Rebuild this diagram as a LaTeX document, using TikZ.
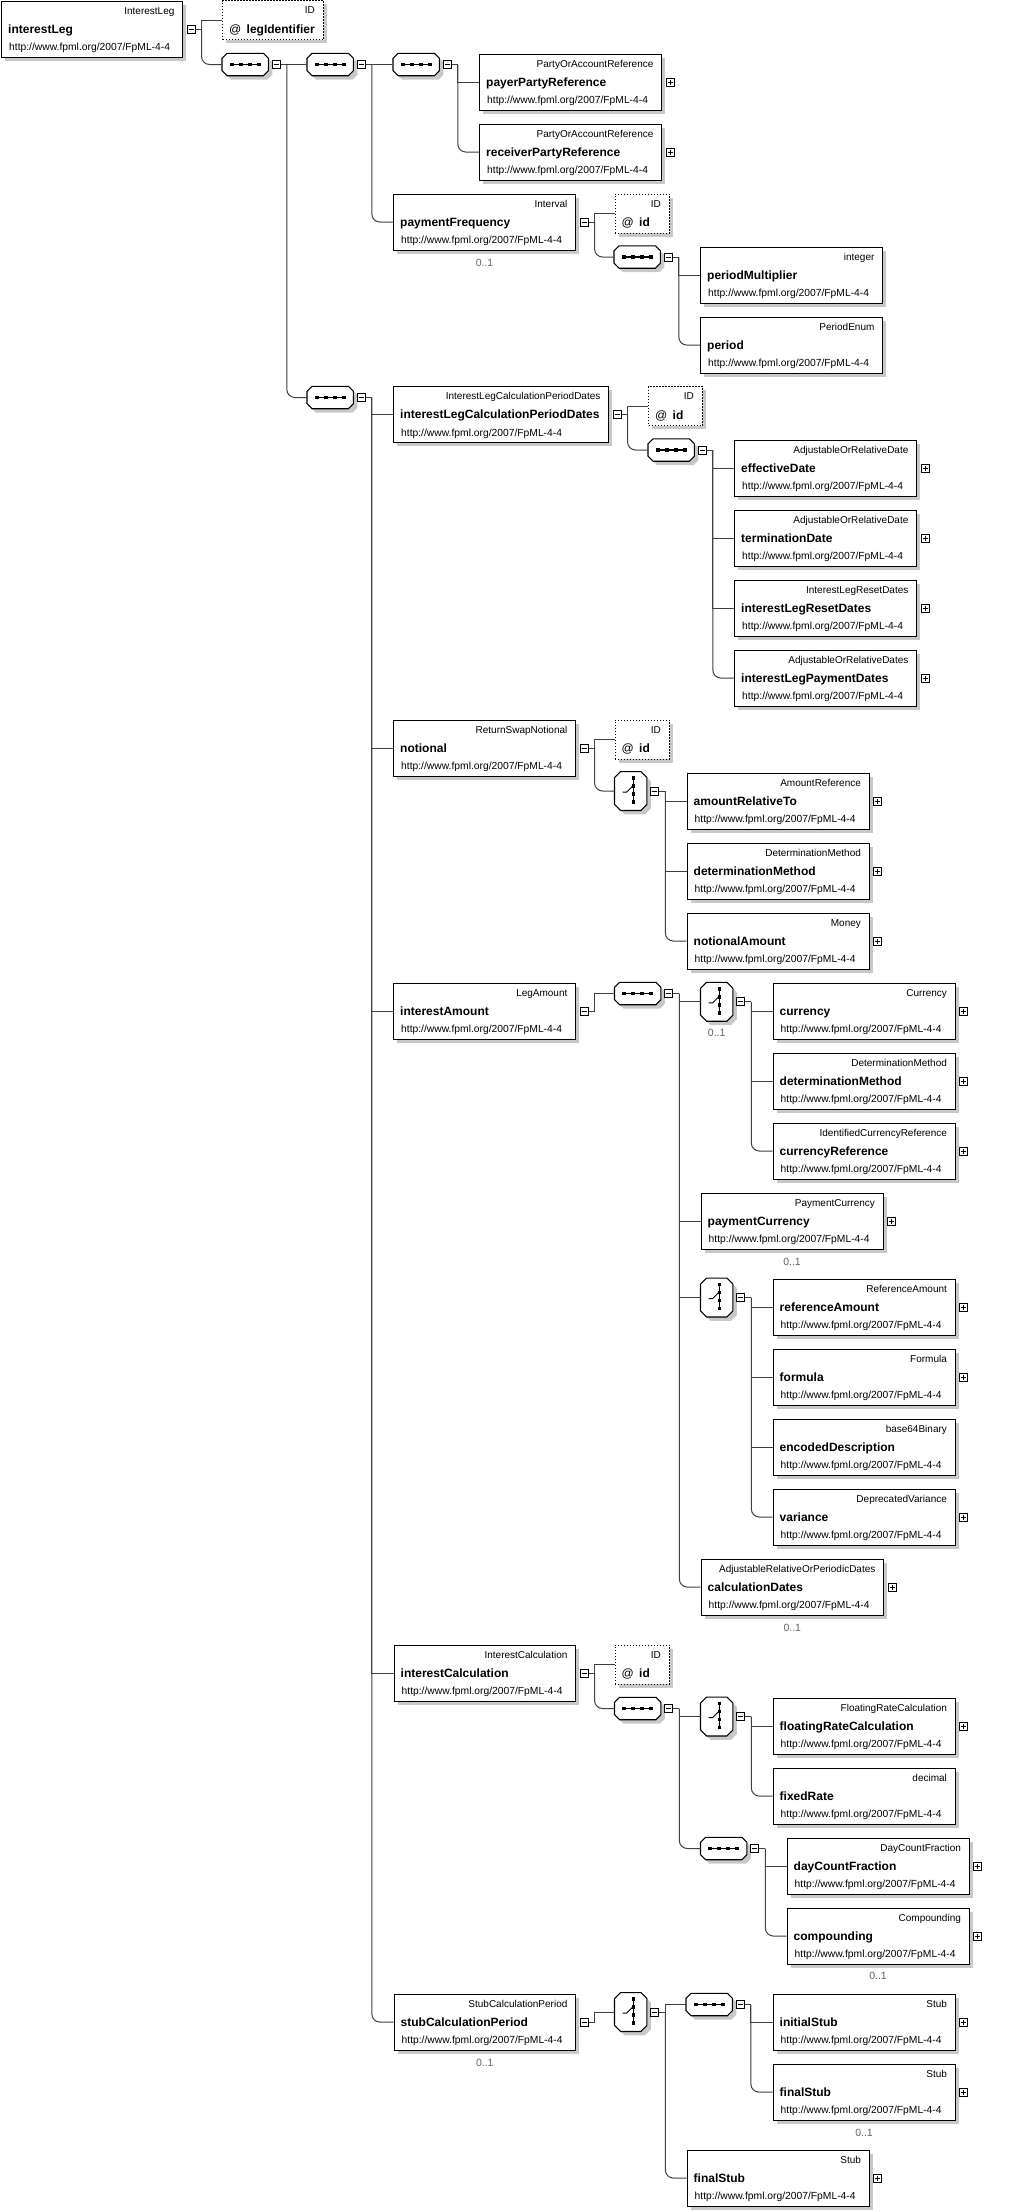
\documentclass[tikz,border=0pt]{standalone}
\usepackage{fontspec}
\setmainfont{Liberation Sans}
\usetikzlibrary{calc}
\definecolor{shadowc}{RGB}{200,200,200}
\definecolor{connc}{RGB}{64,64,64}
\definecolor{occc}{RGB}{100,100,100}
\tikzset{
 elbox/.style={draw=black, line width=1.1pt, fill=white, minimum height=56, inner sep=0, anchor=north west},
 idbox/.style={draw=black, line width=1.1pt, dash pattern=on 1.2pt off 1.8pt, fill=white, minimum height=39, inner sep=0, anchor=north west},
 octnode/.style={inner sep=0, minimum width=46, minimum height=22},
 chnode/.style={inner sep=0, minimum width=32, minimum height=38.5},
 typetxt/.style={inner sep=0, font=\fontsize{10}{12}\selectfont},
 nametxt/.style={inner sep=0, font=\fontsize{12}{14}\selectfont\bfseries},
 attxt/.style={inner sep=0, font=\fontsize{12}{14}\selectfont},
 urltxt/.style={inner sep=0, font=\fontsize{10.3}{12}\selectfont},
 occtxt/.style={inner sep=0, text=occc, font=\fontsize{10.5}{12}\selectfont},
 pmbox/.style={draw=black, line width=0.9pt, fill=white, minimum size=8, inner sep=0},
 signline/.style={line width=0.9pt},
 conn/.style={draw=connc, line width=1pt},
}
\newcommand\elem[6]{%
 \fill[shadowc] (#2+4,#3+4) rectangle (#2+#4+4,#3+60);
 \node[elbox, minimum width=#4] (#1) at (#2,#3) {};
 \node[typetxt, anchor=base east] (#1t) at ([shift={(-8.5,13.5)}]#1.north east) {#5};
 \node[nametxt, anchor=base west] (#1n) at ([shift={(7,32.5)}]#1.north west) {#6};
 \node[urltxt, anchor=base west] (#1u) at ([shift={(8,50)}]#1.north west) {http://www.fpml.org/2007/FpML-4-4};
}
\newcommand\attrbox[5]{%
 \fill[shadowc] (#2+4,#3+4) rectangle (#2+#4+4,#3+43);
 \node[idbox, minimum width=#4] (#1) at (#2,#3) {};
 \node[typetxt, anchor=base east] (#1t) at ([shift={(-9,13.5)}]#1.north east) {ID};
 \node[attxt, anchor=base west] (#1a) at ([shift={(7,33)}]#1.north west) {@};
 \node[nametxt, anchor=base west] (#1n) at ([shift={(24.5,33)}]#1.north west) {#5};
}
\newcommand\octdraw[2]{%
 \fill[shadowc] ([shift={(#2+4,4)}]#1.north west) -- ([shift={(-#2+4,4)}]#1.north east) -- ([shift={(4,#2+4)}]#1.north east) -- ([shift={(4,-#2+4)}]#1.south east) -- ([shift={(-#2+4,4)}]#1.south east) -- ([shift={(#2+4,4)}]#1.south west) -- ([shift={(4,-#2+4)}]#1.south west) -- ([shift={(4,#2+4)}]#1.north west) -- cycle;
 \draw[black, line width=1.1pt, fill=white] ([shift={(#2,0)}]#1.north west) -- ([shift={(-#2,0)}]#1.north east) -- ([shift={(0,#2)}]#1.north east) -- ([shift={(0,-#2)}]#1.south east) -- ([shift={(-#2,0)}]#1.south east) -- ([shift={(#2,0)}]#1.south west) -- ([shift={(0,-#2)}]#1.south west) -- ([shift={(0,#2)}]#1.north west) -- cycle;
}
\newcommand\seqnode[3]{%
 \node[octnode, anchor=west] (#1) at (#2,#3) {};
 \octdraw{#1}{5}
 \draw[line width=1.3pt] ([shift={(-14,0)}]#1.center) -- ([shift={(14,0)}]#1.center);
 \foreach \dd in {-13.5,-4.5,4.5,13.5}{\fill ([shift={(\dd-1.8,-1.8)}]#1.center) rectangle ([shift={(\dd+1.8,1.8)}]#1.center);}
}
\newcommand\choicenode[3]{%
 \node[chnode, anchor=west] (#1) at (#2,#3) {};
 \octdraw{#1}{6}
 \draw[line width=1.3pt] ([shift={(2.7,-13)}]#1.center) -- ([shift={(2.7,11)}]#1.center);
 \foreach \dd in {-13,-5,3,11}{\fill ([shift={(2.7-1.8,\dd-1.8)}]#1.center) rectangle ([shift={(2.7+1.8,\dd+1.8)}]#1.center);}
 \draw[line width=1pt] ([shift={(-8,1)}]#1.center) -- ([shift={(-4,1)}]#1.center) -- ([shift={(1.5,-4.5)}]#1.center);
}
\newcommand\minusfor[2]{%
 \node[pmbox] (#2) at ([xshift=8pt]#1.east) {};
 \draw[signline] ([xshift=-2.5pt]#2.center) -- ([xshift=2.5pt]#2.center);
}
\newcommand\plusfor[2]{%
 \node[pmbox] (#2) at ([xshift=8pt]#1.east) {};
 \draw[signline] ([xshift=-2.5pt]#2.center) -- ([xshift=2.5pt]#2.center) ([yshift=-2.5pt]#2.center) -- ([yshift=2.5pt]#2.center);
}
\newcommand\occfor[2]{\node[occtxt] (#1o) at ([shift={(0,#2)}]#1.south) {0..1};}
\newcommand\jn[1]{\coordinate (#1v) at ([xshift=6pt]#1.east); \draw[conn] (#1.east) -- (#1v);}
\newcommand\tj[2]{\draw[conn] (#1v) |- (#2.west);}
\newcommand\lj[2]{\draw[conn, rounded corners=8pt] (#1v) |- (#2.west);}
\begin{document}
\begin{tikzpicture}[x=1pt,y=-1pt]
\fill[white] (0,0) rectangle (1009,2211);
\useasboundingbox (0,0) rectangle (1009,2211);
% top
\elem{il}{1}{0.5}{181}{InterestLeg}{interestLeg}
\minusfor{il}{ilm}
\attrbox{ilid}{222}{0}{101}{legIdentifier}
\seqnode{sA}{222}{64.5}
\minusfor{sA}{sAm}
\seqnode{sB}{307}{64.5}
\minusfor{sB}{sBm}
\seqnode{sD}{393}{64.5}
\minusfor{sD}{sDm}
\elem{payer}{479}{53.5}{182}{PartyOrAccountReference}{payerPartyReference}
\plusfor{payer}{payerp}
\elem{recv}{479}{123.5}{182}{PartyOrAccountReference}{receiverPartyReference}
\plusfor{recv}{recvp}
\elem{pf}{393}{193.5}{182}{Interval}{paymentFrequency}
\minusfor{pf}{pfm}
\occfor{pf}{12}
\attrbox{pfid}{614.5}{193.5}{54.5}{id}
\seqnode{pfs}{614}{257}
\minusfor{pfs}{pfsm}
\elem{pmul}{700}{246.5}{182}{integer}{periodMultiplier}
\elem{per}{700}{316.5}{182}{PeriodEnum}{period}
% seq C
\seqnode{sC}{307}{397.5}
\minusfor{sC}{sCm}
\elem{ilcpd}{393}{386}{215}{InterestLegCalculationPeriodDates}{interestLegCalculationPeriodDates}
\minusfor{ilcpd}{ilcpdm}
\attrbox{ilcpdid}{648}{386}{54}{id}
\seqnode{ilcpds}{648}{450}
\minusfor{ilcpds}{ilcpdsm}
\elem{eff}{734}{439.5}{182}{AdjustableOrRelativeDate}{effectiveDate}
\plusfor{eff}{effp}
\elem{term}{734}{509.5}{182}{AdjustableOrRelativeDate}{terminationDate}
\plusfor{term}{termp}
\elem{reset}{734}{579.5}{182}{InterestLegResetDates}{interestLegResetDates}
\plusfor{reset}{resetp}
\elem{paydt}{734}{649.5}{182}{AdjustableOrRelativeDates}{interestLegPaymentDates}
\plusfor{paydt}{paydtp}
% notional
\elem{notl}{393}{719.5}{182}{ReturnSwapNotional}{notional}
\minusfor{notl}{notlm}
\attrbox{notlid}{614.5}{719.5}{54.5}{id}
\choicenode{notlc}{614.5}{791}
\minusfor{notlc}{notlcm}
\elem{amrel}{686.5}{772.5}{182}{AmountReference}{amountRelativeTo}
\plusfor{amrel}{amrelp}
\elem{detm}{686.5}{842.5}{182}{DeterminationMethod}{determinationMethod}
\plusfor{detm}{detmp}
\elem{notam}{686.5}{912.5}{182}{Money}{notionalAmount}
\plusfor{notam}{notamp}
% interestAmount
\elem{iam}{393}{982.5}{182}{LegAmount}{interestAmount}
\minusfor{iam}{iamm}
\seqnode{iams}{614.5}{993.5}
\minusfor{iams}{iamsm}
\choicenode{iac1}{700.5}{1001.75}
\minusfor{iac1}{iac1m}
\occfor{iac1}{11.5}
\elem{cur}{772.5}{982.5}{182}{Currency}{currency}
\plusfor{cur}{curp}
\elem{detmb}{772.5}{1052.5}{182}{DeterminationMethod}{determinationMethod}
\plusfor{detmb}{detmbp}
\elem{curref}{772.5}{1122.5}{182}{IdentifiedCurrencyReference}{currencyReference}
\plusfor{curref}{currefp}
\elem{paycur}{700.5}{1192.5}{182}{PaymentCurrency}{paymentCurrency}
\plusfor{paycur}{paycurp}
\occfor{paycur}{12}
\choicenode{iac2}{700.5}{1297.5}
\minusfor{iac2}{iac2m}
\elem{refam}{772.5}{1278.5}{182}{ReferenceAmount}{referenceAmount}
\plusfor{refam}{refamp}
\elem{form}{772.5}{1348.5}{182}{Formula}{formula}
\plusfor{form}{formp}
\elem{encd}{772.5}{1418.5}{182}{base64Binary}{encodedDescription}
\elem{var}{772.5}{1488.5}{182}{DeprecatedVariance}{variance}
\plusfor{var}{varp}
\elem{cald}{700.5}{1558.5}{182.5}{AdjustableRelativeOrPeriodicDates}{calculationDates}
\plusfor{cald}{caldp}
\occfor{cald}{12}
% interestCalculation
\elem{ic}{393.5}{1644.5}{181.5}{InterestCalculation}{interestCalculation}
\minusfor{ic}{icm}
\attrbox{icid}{614.5}{1644.5}{54.5}{id}
\seqnode{ics}{614.5}{1708.5}
\minusfor{ics}{icsm}
\choicenode{icc}{700.5}{1716.5}
\minusfor{icc}{iccm}
\elem{frc}{772.5}{1697.5}{182}{FloatingRateCalculation}{floatingRateCalculation}
\plusfor{frc}{frcp}
\elem{fixr}{772.5}{1767.5}{182}{decimal}{fixedRate}
\seqnode{icsb}{700.5}{1848.5}
\minusfor{icsb}{icsbm}
\elem{dcf}{786.5}{1837.5}{182}{DayCountFraction}{dayCountFraction}
\plusfor{dcf}{dcfp}
\elem{comp}{786.5}{1907.5}{182}{Compounding}{compounding}
\plusfor{comp}{compp}
\occfor{comp}{11.5}
% stub
\elem{stub}{393.5}{1993.5}{181.5}{StubCalculationPeriod}{stubCalculationPeriod}
\minusfor{stub}{stubm}
\occfor{stub}{12}
\choicenode{stubc}{614.5}{2012}
\minusfor{stubc}{stubcm}
\seqnode{stubs}{686}{2004.5}
\minusfor{stubs}{stubsm}
\elem{inis}{772.5}{1993.5}{182}{Stub}{initialStub}
\plusfor{inis}{inisp}
\elem{fins}{772.5}{2063.5}{182}{Stub}{finalStub}
\plusfor{fins}{finsp}
\occfor{fins}{12}
\elem{finsb}{686.5}{2149.5}{182}{Stub}{finalStub}
\plusfor{finsb}{finsbp}
% connectors
\jn{ilm} \tj{ilm}{ilid} \lj{ilm}{sA}
\jn{sAm} \tj{sAm}{sB} \lj{sAm}{sC}
\jn{sBm} \tj{sBm}{sD} \lj{sBm}{pf}
\jn{sDm} \tj{sDm}{payer} \lj{sDm}{recv}
\jn{pfm} \tj{pfm}{pfid} \lj{pfm}{pfs}
\jn{pfsm} \tj{pfsm}{pmul} \lj{pfsm}{per}
\jn{sCm} \tj{sCm}{ilcpd} \tj{sCm}{notl} \tj{sCm}{iam} \tj{sCm}{ic} \lj{sCm}{stub}
\jn{ilcpdm} \tj{ilcpdm}{ilcpdid} \lj{ilcpdm}{ilcpds}
\jn{ilcpdsm} \tj{ilcpdsm}{eff} \tj{ilcpdsm}{term} \tj{ilcpdsm}{reset} \lj{ilcpdsm}{paydt}
\jn{notlm} \tj{notlm}{notlid} \lj{notlm}{notlc}
\jn{notlcm} \tj{notlcm}{amrel} \tj{notlcm}{detm} \lj{notlcm}{notam}
\jn{iamm} \tj{iamm}{iams}
\jn{iamsm} \tj{iamsm}{iac1} \tj{iamsm}{paycur} \tj{iamsm}{iac2} \lj{iamsm}{cald}
\jn{iac1m} \tj{iac1m}{cur} \tj{iac1m}{detmb} \lj{iac1m}{curref}
\jn{iac2m} \tj{iac2m}{refam} \tj{iac2m}{form} \tj{iac2m}{encd} \lj{iac2m}{var}
\jn{icm} \tj{icm}{icid} \lj{icm}{ics}
\jn{icsm} \tj{icsm}{icc} \lj{icsm}{icsb}
\jn{iccm} \tj{iccm}{frc} \lj{iccm}{fixr}
\jn{icsbm} \tj{icsbm}{dcf} \lj{icsbm}{comp}
\jn{stubm} \tj{stubm}{stubc}
\jn{stubcm} \tj{stubcm}{stubs} \lj{stubcm}{finsb}
\jn{stubsm} \tj{stubsm}{inis} \lj{stubsm}{fins}
\end{tikzpicture}
\end{document}
